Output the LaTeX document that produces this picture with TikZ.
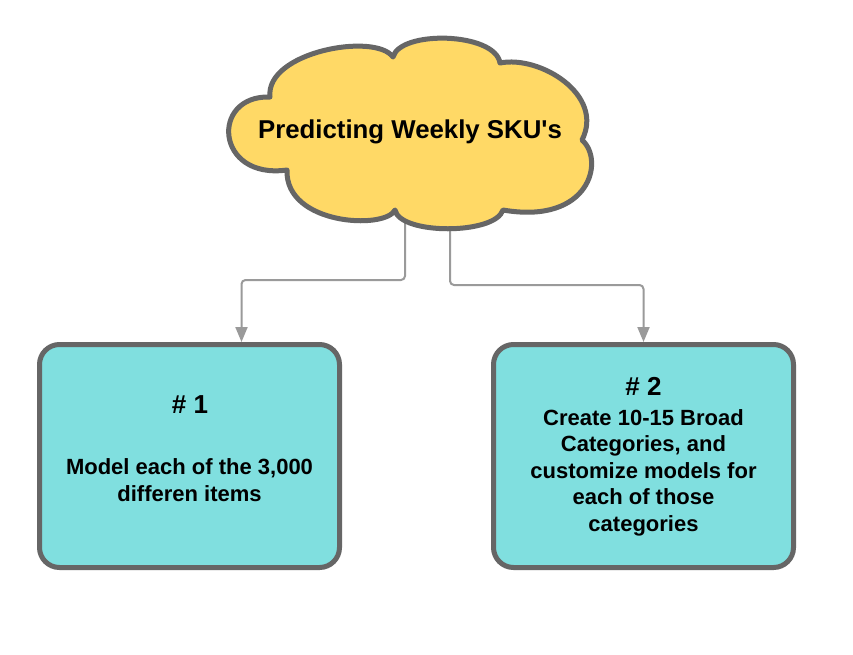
\documentclass[tikz,border=0pt]{standalone}
\usepackage{fontspec}
\setmainfont{Liberation Sans}
\usetikzlibrary{arrows.meta}
\definecolor{cloudfill}{HTML}{FFD966}
\definecolor{boxfill}{HTML}{80DFDF}
\definecolor{edgecol}{HTML}{666666}
\definecolor{conncol}{HTML}{9A9A9A}
\tikzset{
  boxnode/.style={draw=edgecol, line width=5pt, fill=boxfill, rounded corners=20pt,
    minimum width=300pt, minimum height=223pt, inner sep=0pt},
  txt/.style={font=\bfseries\fontsize{22}{26.4}\selectfont, align=center, inner sep=0pt, anchor=base},
  bigtxt/.style={txt, font=\bfseries\fontsize{26}{30}\selectfont},
  cloudline/.style={draw=edgecol, line width=5pt, fill=cloudfill, line join=round},
  conn/.style={draw=conncol, line width=2pt, rounded corners=4pt,
    -{Triangle[length=15pt,width=12pt]}},
}
\begin{document}
\begin{tikzpicture}[x=1pt,y=-1pt]
\path[use as bounding box] (0,0) rectangle (853,654);
\fill[white] (0,0) rectangle (853,654);
% connectors (drawn first, the cloud covers their start)
\coordinate (s1) at (405,200);
\coordinate (s2) at (450,215);
\node[boxnode] (box1) at (189.5,456) {};
\node[boxnode] (box2) at (643.5,456) {};
\draw[conn] (s1) -- ++(0,80) -| ([xshift=52pt]box1.north);
\draw[conn] (s2) -- ++(0,70) -| (box2.north);
% cloud
\draw[cloudline] (270,97)
  .. controls (265,52) and (375,32) .. (393,57)
  .. controls (400,30) and (495,32) .. (500,63)
  .. controls (540,55) and (605,95) .. (582,140)
  .. controls (605,160) and (590,225) .. (503,210)
  .. controls (495,235) and (400,235) .. (395,210)
  .. controls (385,230) and (285,225) .. (287,170)
  .. controls (215,180) and (210,95) .. (270,97) -- cycle;
\node[txt, font=\bfseries\fontsize{25.8}{30}\selectfont] (title) at (410,138) {Predicting Weekly SKU\textquotesingle s};
% box texts (base anchor = baseline of the last line)
\node[bigtxt] (n1) at (190,413) {\# 1};
\node[txt] (d1) at (189.5,501) {Model each of the 3,000\\differen items};
\node[bigtxt] (n2) at (643.5,395) {\# 2};
\node[txt] (d2) at (643.5,531) {Create 10-15 Broad\\Categories, and\\customize models for\\each of those\\categories};
\end{tikzpicture}
\end{document}
